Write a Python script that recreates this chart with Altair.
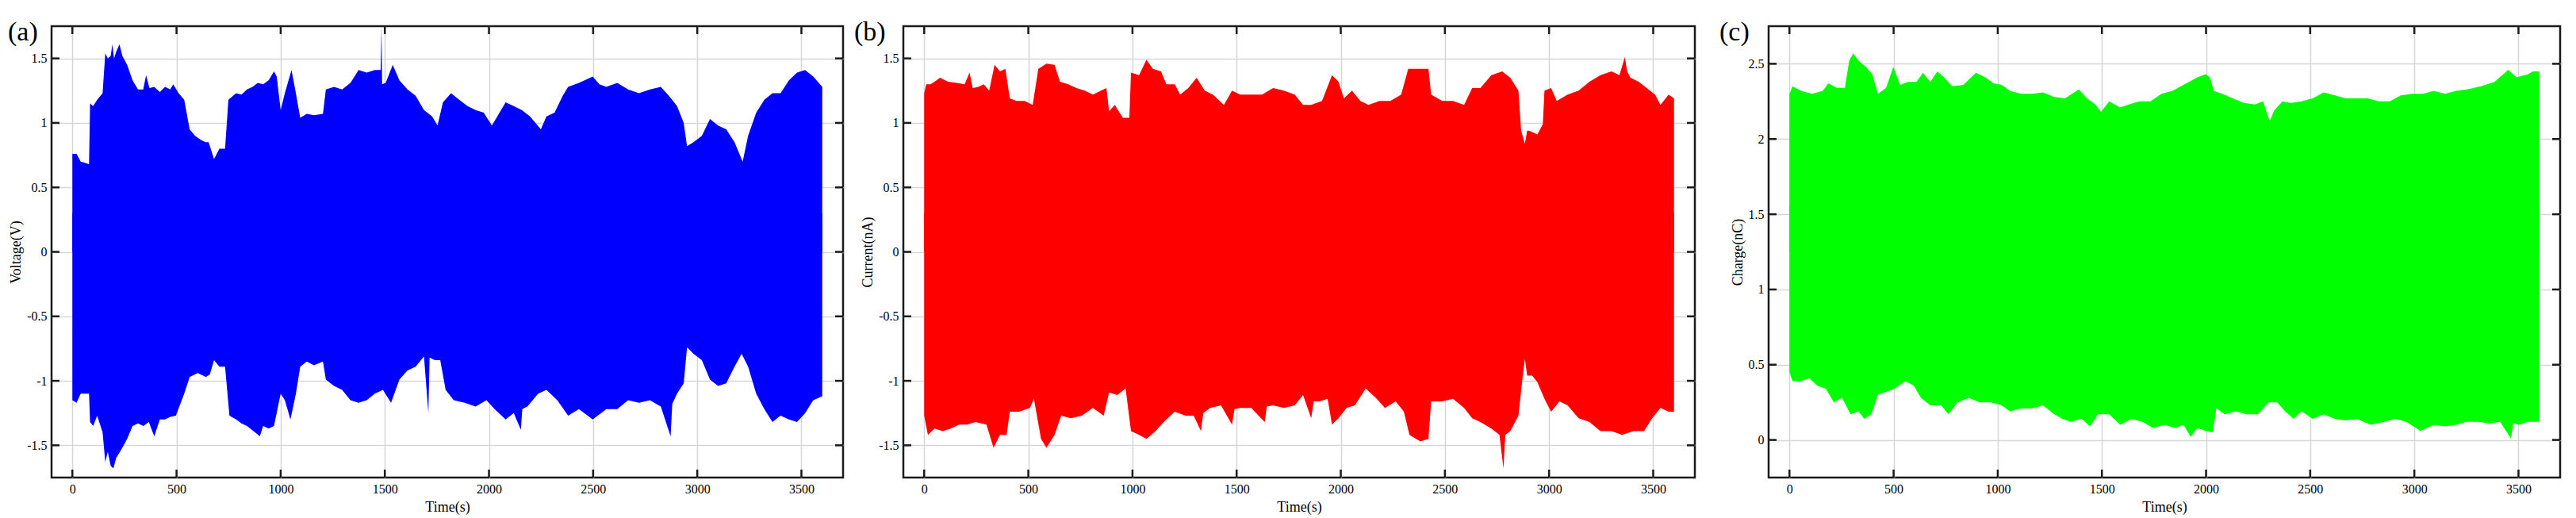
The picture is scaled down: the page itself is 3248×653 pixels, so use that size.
import altair as alt
import pandas as pd

FONT = "Liberation Serif"
W, H = 998, 569
XTICKS = [0, 500, 1000, 1500, 2000, 2500, 3000, 3500]
YTICKS_AB = [-1.5, -1, -0.5, 0, 0.5, 1, 1.5]
YTICKS_C = [0, 0.5, 1, 1.5, 2, 2.5]

# ---- (a) Voltage envelope ----
a_up_t = [0, 20, 40, 60, 80, 85, 100, 119, 145, 158, 170, 184, 192, 200, 210, 226, 240, 263, 289, 315, 340, 354, 370, 393, 420, 445, 470, 484, 510, 537, 563, 589, 615, 640, 654, 680, 706, 733, 749, 786, 812, 838, 865, 890, 916, 942, 968, 981, 1000, 1020, 1052, 1073, 1094, 1125, 1160, 1203, 1217, 1256, 1295, 1335, 1374, 1413, 1452, 1480, 1484, 1487, 1504, 1538, 1570, 1609, 1648, 1688, 1727, 1753, 1779, 1818, 1857, 1897, 1936, 1975, 2014, 2040, 2080, 2119, 2158, 2197, 2249, 2276, 2315, 2354, 2380, 2432, 2498, 2530, 2563, 2616, 2668, 2720, 2773, 2825, 2864, 2903, 2935, 2951, 2982, 3022, 3061, 3100, 3139, 3179, 3218, 3244, 3283, 3322, 3361, 3400, 3440, 3479, 3518, 3557, 3600]
a_up_v = [0.76, 0.76, 0.70, 0.69, 0.68, 1.15, 1.13, 1.18, 1.23, 1.54, 1.50, 1.52, 1.61, 1.50, 1.55, 1.61, 1.52, 1.45, 1.33, 1.26, 1.26, 1.37, 1.27, 1.28, 1.24, 1.28, 1.26, 1.30, 1.23, 1.18, 0.95, 0.90, 0.87, 0.85, 0.85, 0.72, 0.80, 0.80, 1.18, 1.23, 1.22, 1.26, 1.28, 1.31, 1.30, 1.33, 1.40, 1.36, 1.10, 1.23, 1.41, 1.23, 1.04, 1.07, 1.06, 1.07, 1.26, 1.28, 1.26, 1.31, 1.41, 1.39, 1.41, 1.41, 1.75, 1.30, 1.31, 1.45, 1.33, 1.26, 1.21, 1.10, 1.05, 0.98, 1.16, 1.23, 1.18, 1.13, 1.10, 1.08, 0.98, 1.05, 1.16, 1.13, 1.10, 1.05, 0.95, 1.05, 1.08, 1.21, 1.28, 1.31, 1.36, 1.30, 1.28, 1.31, 1.26, 1.23, 1.26, 1.28, 1.21, 1.13, 1.00, 0.82, 0.85, 0.90, 1.03, 0.98, 0.95, 0.85, 0.70, 0.90, 1.08, 1.18, 1.23, 1.23, 1.33, 1.39, 1.41, 1.36, 1.28]
a_lo_t = [0, 20, 40, 60, 80, 85, 100, 119, 145, 158, 170, 184, 197, 210, 236, 263, 289, 315, 341, 367, 393, 420, 445, 470, 497, 537, 563, 602, 641, 660, 680, 706, 733, 754, 786, 812, 838, 877, 900, 916, 942, 968, 1000, 1020, 1047, 1073, 1094, 1125, 1160, 1203, 1217, 1256, 1295, 1335, 1374, 1413, 1452, 1491, 1530, 1570, 1609, 1648, 1688, 1709, 1715, 1740, 1766, 1792, 1831, 1883, 1936, 1988, 2027, 2080, 2119, 2153, 2160, 2184, 2236, 2276, 2328, 2380, 2432, 2498, 2563, 2616, 2668, 2720, 2773, 2825, 2872, 2880, 2903, 2935, 2951, 2982, 3022, 3061, 3100, 3139, 3179, 3213, 3244, 3283, 3322, 3361, 3400, 3440, 3479, 3518, 3557, 3600]
a_lo_v = [-1.15, -1.17, -1.10, -1.10, -1.10, -1.32, -1.35, -1.27, -1.40, -1.63, -1.55, -1.66, -1.68, -1.60, -1.53, -1.45, -1.35, -1.33, -1.35, -1.32, -1.43, -1.30, -1.30, -1.28, -1.27, -1.10, -0.97, -0.94, -0.97, -0.95, -0.84, -0.89, -0.89, -1.27, -1.30, -1.33, -1.35, -1.40, -1.43, -1.35, -1.37, -1.35, -1.10, -1.15, -1.30, -1.10, -0.89, -0.85, -0.88, -0.85, -0.99, -1.04, -1.07, -1.15, -1.17, -1.15, -1.10, -1.07, -1.17, -0.99, -0.92, -0.89, -0.81, -1.25, -0.82, -0.84, -0.84, -1.07, -1.15, -1.17, -1.20, -1.15, -1.22, -1.30, -1.25, -1.38, -1.22, -1.20, -1.10, -1.07, -1.15, -1.27, -1.22, -1.30, -1.22, -1.22, -1.15, -1.17, -1.15, -1.20, -1.43, -1.18, -1.10, -1.02, -0.74, -0.79, -0.84, -0.99, -1.04, -1.02, -0.89, -0.79, -0.89, -1.10, -1.22, -1.32, -1.27, -1.30, -1.32, -1.25, -1.15, -1.12]

# ---- (b) Current envelope ----
b_up_t = [0, 10, 30, 50, 76, 115, 155, 194, 218, 233, 260, 286, 312, 338, 364, 390, 411, 443, 482, 521, 548, 587, 626, 652, 692, 731, 771, 810, 849, 875, 888, 915, 954, 985, 993, 1032, 1067, 1098, 1137, 1163, 1203, 1229, 1268, 1308, 1347, 1386, 1439, 1478, 1517, 1570, 1622, 1675, 1727, 1779, 1819, 1858, 1910, 1958, 1989, 2015, 2054, 2094, 2133, 2186, 2238, 2290, 2324, 2369, 2421, 2434, 2487, 2539, 2592, 2631, 2670, 2723, 2775, 2814, 2853, 2866, 2884, 2895, 2905, 2944, 2970, 2978, 3010, 3037, 3089, 3142, 3194, 3247, 3299, 3338, 3364, 3375, 3391, 3430, 3469, 3509, 3535, 3574, 3600]
b_up_v = [1.23, 1.30, 1.30, 1.32, 1.35, 1.32, 1.31, 1.30, 1.39, 1.27, 1.28, 1.30, 1.25, 1.45, 1.40, 1.42, 1.19, 1.17, 1.17, 1.14, 1.42, 1.46, 1.45, 1.32, 1.30, 1.27, 1.25, 1.22, 1.25, 1.27, 1.09, 1.14, 1.04, 1.04, 1.39, 1.37, 1.49, 1.42, 1.40, 1.30, 1.30, 1.22, 1.27, 1.35, 1.25, 1.22, 1.14, 1.25, 1.22, 1.22, 1.22, 1.27, 1.25, 1.22, 1.14, 1.14, 1.17, 1.37, 1.32, 1.19, 1.25, 1.17, 1.14, 1.17, 1.17, 1.22, 1.42, 1.42, 1.42, 1.22, 1.17, 1.17, 1.14, 1.27, 1.27, 1.37, 1.40, 1.35, 1.25, 0.94, 0.84, 0.94, 0.94, 0.91, 0.99, 1.25, 1.27, 1.17, 1.22, 1.25, 1.32, 1.37, 1.40, 1.37, 1.51, 1.40, 1.35, 1.32, 1.27, 1.22, 1.14, 1.22, 1.19]
b_lo_t = [0, 18, 50, 89, 128, 168, 207, 246, 299, 333, 364, 396, 411, 456, 508, 527, 561, 587, 626, 658, 705, 757, 810, 862, 888, 927, 967, 993, 1032, 1067, 1111, 1150, 1203, 1255, 1294, 1329, 1340, 1373, 1425, 1478, 1490, 1517, 1570, 1635, 1645, 1675, 1727, 1779, 1819, 1858, 1870, 1897, 1937, 1958, 1989, 2028, 2068, 2120, 2173, 2212, 2264, 2303, 2330, 2382, 2421, 2434, 2487, 2539, 2592, 2631, 2670, 2723, 2762, 2781, 2790, 2814, 2853, 2874, 2884, 2895, 2919, 2944, 2978, 3010, 3050, 3089, 3142, 3194, 3247, 3299, 3351, 3404, 3456, 3495, 3535, 3574, 3600]
b_lo_v = [-1.27, -1.42, -1.37, -1.39, -1.37, -1.34, -1.34, -1.32, -1.34, -1.52, -1.42, -1.42, -1.24, -1.24, -1.21, -1.14, -1.45, -1.52, -1.42, -1.27, -1.29, -1.27, -1.21, -1.27, -1.09, -1.11, -1.06, -1.39, -1.42, -1.45, -1.39, -1.32, -1.24, -1.27, -1.27, -1.39, -1.25, -1.21, -1.19, -1.34, -1.22, -1.21, -1.21, -1.32, -1.20, -1.19, -1.21, -1.19, -1.11, -1.29, -1.16, -1.16, -1.14, -1.34, -1.29, -1.21, -1.19, -1.06, -1.14, -1.21, -1.16, -1.24, -1.42, -1.47, -1.45, -1.16, -1.16, -1.14, -1.21, -1.29, -1.32, -1.37, -1.42, -1.68, -1.42, -1.39, -1.27, -0.96, -0.83, -0.96, -0.96, -1.01, -1.14, -1.24, -1.16, -1.19, -1.29, -1.32, -1.39, -1.39, -1.42, -1.39, -1.39, -1.29, -1.21, -1.24, -1.24]

# ---- (c) Charge envelope ----
c_up_t = [0, 15, 55, 108, 160, 187, 227, 266, 287, 306, 332, 367, 398, 425, 464, 499, 531, 570, 610, 641, 676, 710, 742, 782, 835, 895, 940, 980, 1019, 1059, 1112, 1165, 1218, 1271, 1323, 1389, 1429, 1469, 1496, 1535, 1588, 1628, 1681, 1733, 1786, 1839, 1918, 1958, 1998, 2019, 2037, 2077, 2129, 2182, 2235, 2274, 2288, 2306, 2327, 2367, 2406, 2459, 2512, 2565, 2618, 2671, 2724, 2777, 2830, 2882, 2935, 2988, 3041, 3094, 3147, 3200, 3253, 3319, 3385, 3451, 3491, 3544, 3570, 3600]
c_up_v = [2.30, 2.35, 2.32, 2.30, 2.32, 2.37, 2.34, 2.34, 2.52, 2.57, 2.52, 2.48, 2.43, 2.30, 2.34, 2.48, 2.36, 2.38, 2.38, 2.44, 2.38, 2.45, 2.41, 2.35, 2.36, 2.44, 2.41, 2.37, 2.36, 2.32, 2.30, 2.30, 2.31, 2.28, 2.27, 2.33, 2.27, 2.23, 2.18, 2.25, 2.21, 2.23, 2.25, 2.25, 2.30, 2.32, 2.38, 2.41, 2.43, 2.41, 2.32, 2.30, 2.27, 2.24, 2.23, 2.25, 2.19, 2.12, 2.19, 2.25, 2.24, 2.25, 2.27, 2.31, 2.29, 2.27, 2.27, 2.27, 2.25, 2.25, 2.29, 2.30, 2.30, 2.32, 2.30, 2.32, 2.33, 2.35, 2.38, 2.46, 2.41, 2.43, 2.45, 2.45]
c_lo_t = [0, 15, 55, 95, 134, 174, 214, 253, 293, 332, 359, 393, 425, 464, 504, 557, 597, 631, 676, 729, 763, 808, 861, 914, 967, 1019, 1059, 1112, 1165, 1218, 1271, 1311, 1350, 1403, 1443, 1482, 1535, 1588, 1641, 1694, 1747, 1800, 1852, 1892, 1927, 1958, 1998, 2032, 2050, 2090, 2143, 2195, 2248, 2301, 2341, 2380, 2420, 2459, 2512, 2565, 2618, 2671, 2724, 2790, 2856, 2909, 2962, 3029, 3094, 3147, 3200, 3253, 3306, 3359, 3412, 3464, 3475, 3504, 3544, 3600]
c_lo_v = [0.45, 0.39, 0.39, 0.41, 0.36, 0.34, 0.25, 0.28, 0.17, 0.19, 0.14, 0.17, 0.30, 0.32, 0.34, 0.39, 0.36, 0.28, 0.23, 0.23, 0.17, 0.25, 0.28, 0.25, 0.25, 0.23, 0.19, 0.21, 0.21, 0.23, 0.17, 0.14, 0.12, 0.14, 0.09, 0.17, 0.17, 0.10, 0.14, 0.12, 0.08, 0.10, 0.08, 0.10, 0.02, 0.08, 0.06, 0.05, 0.21, 0.17, 0.19, 0.17, 0.17, 0.25, 0.25, 0.19, 0.14, 0.19, 0.14, 0.17, 0.14, 0.13, 0.14, 0.10, 0.12, 0.14, 0.12, 0.06, 0.10, 0.09, 0.10, 0.12, 0.12, 0.11, 0.12, 0.01, 0.11, 0.10, 0.12, 0.12]

TICK_COLOR = "#1a1a1a"
YLABEL_EXPR = "datum.value < 0 ? '-' + format(-datum.value, '~g') : format(datum.value, '~g')"


def panel(up_t, up_v, lo_t, lo_v, mid, overlap, color, ydom, yticks, ytitle, tag, tag_dx):
    xs = alt.Scale(domain=[-100, 3700], nice=False, zero=False)
    ys = alt.Scale(domain=ydom, nice=False, zero=False)
    xaxis = alt.Axis(values=XTICKS, title="Time(s)", grid=True, ticks=False, domain=False,
                     format="d", labelPadding=6, titlePadding=6)
    yaxis = alt.Axis(values=yticks, title=ytitle, grid=True, ticks=False, domain=False,
                     labelExpr=YLABEL_EXPR, labelPadding=6, titlePadding=4)
    up_df = pd.DataFrame({"t": up_t, "v": up_v})
    lo_df = pd.DataFrame({"t": lo_t, "v": lo_v})
    upper = alt.Chart(up_df).mark_area(color=color, interpolate="linear", clip=True, opacity=1).encode(
        x=alt.X("t:Q", scale=xs, axis=xaxis),
        y=alt.Y("v:Q", scale=ys, axis=yaxis),
        y2=alt.datum(mid),
    )
    lower = alt.Chart(lo_df).mark_area(color=color, interpolate="linear", clip=True, opacity=1).encode(
        x=alt.X("t:Q", scale=xs, axis=xaxis),
        y=alt.Y("v:Q", scale=ys, axis=yaxis),
        y2=alt.datum(mid + overlap),
    )
    ydf = pd.DataFrame({"t": [0] * len(yticks), "v": yticks})
    xdf = pd.DataFrame({"t": XTICKS, "v": [0] * len(XTICKS)})
    rule = dict(color=TICK_COLOR, strokeWidth=2.5)
    tl = alt.Chart(ydf).mark_rule(**rule).encode(
        y=alt.Y("v:Q", scale=ys, axis=yaxis), x=alt.value(0), x2=alt.value(10))
    tr = alt.Chart(ydf).mark_rule(**rule).encode(
        y=alt.Y("v:Q", scale=ys, axis=yaxis), x=alt.value(W - 10), x2=alt.value(W))
    tb = alt.Chart(xdf).mark_rule(**rule).encode(
        x=alt.X("t:Q", scale=xs, axis=xaxis), y=alt.value(H - 10), y2=alt.value(H))
    tt = alt.Chart(xdf).mark_rule(**rule).encode(
        x=alt.X("t:Q", scale=xs, axis=xaxis), y=alt.value(0), y2=alt.value(10))
    lab = alt.Chart(pd.DataFrame({"tag": [tag]})).mark_text(
        font=FONT, fontSize=34, align="left", baseline="middle", color="black"
    ).encode(text="tag:N", x=alt.value(tag_dx), y=alt.value(8))
    return alt.layer(upper, lower, tl, tr, tb, tt, lab).properties(width=W, height=H)


pa = panel(a_up_t, a_up_v, a_lo_t, a_lo_v, 0.0, 0.3, "#0000ff", [-1.75, 1.75], YTICKS_AB, "Voltage(V)", "(a)", -55)
pb = panel(b_up_t, b_up_v, b_lo_t, b_lo_v, 0.0, 0.3, "#ff0000", [-1.75, 1.75], YTICKS_AB, "Current(nA)", "(b)", -62)
pc = panel(c_up_t, c_up_v, c_lo_t, c_lo_v, 1.25, 0.3, "#00ff00", [-0.25, 2.75], YTICKS_C, "Charge(nC)", "(c)", -62)

ab = alt.hconcat(pa, pb, spacing=76, bounds="flush")
chart = alt.hconcat(ab, pc, spacing=26).properties(
    padding={"left": 0, "top": 14, "right": 5, "bottom": 5}
).configure_view(
    stroke=TICK_COLOR, strokeWidth=2.5
).configure_axis(
    labelFont=FONT, titleFont=FONT, labelFontSize=16, titleFontSize=18,
    labelColor="black", titleColor="black", titleFontWeight="normal",
    gridColor="#d6d6d6", gridWidth=1.5
)

chart.save("out.html", embed_options={"renderer": "svg", "actions": False})
